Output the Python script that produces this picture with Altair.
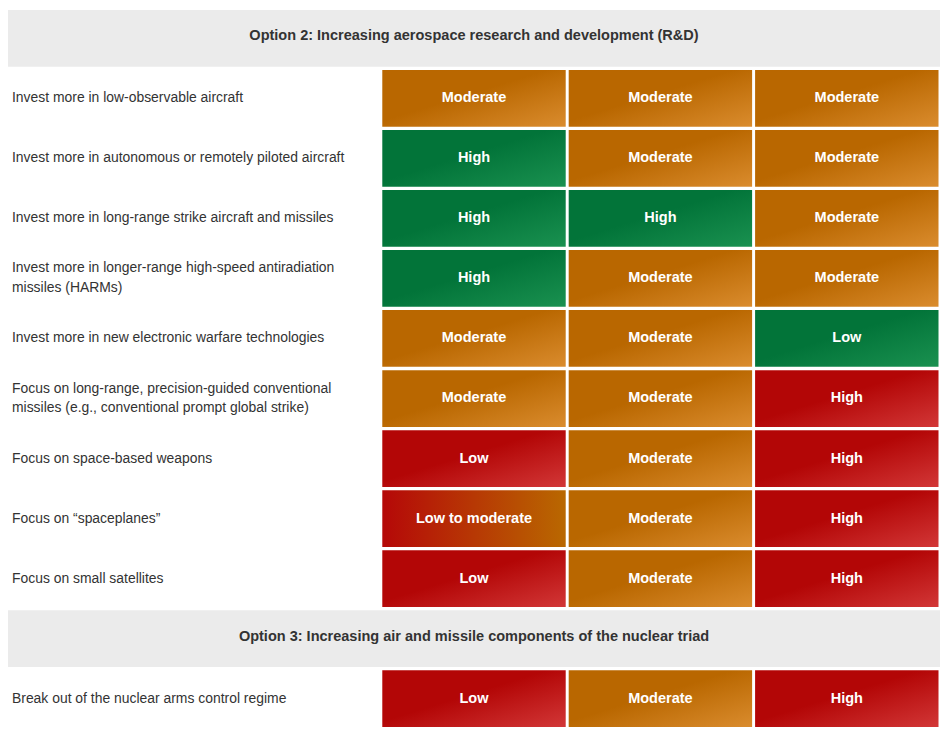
import altair as alt
import pandas as pd

# ---- data ----
row_keys = ["H1", "R1", "R2", "R3", "R4", "R5", "R6", "R7", "R8", "R9", "H2", "R10"]

header_keys = ["H1", "H2"]
header_texts = [
    "Option 2: Increasing aerospace research and development (R&D)",
    "Option 3: Increasing air and missile components of the nuclear triad",
]

item_keys = ["R1", "R2", "R3", "R4", "R5", "R6", "R7", "R8", "R9", "R10"]
item_labels = [
    "Invest more in low-observable aircraft",
    "Invest more in autonomous or remotely piloted aircraft",
    "Invest more in long-range strike aircraft and missiles",
    "Invest more in longer-range high-speed antiradiation\nmissiles (HARMs)",
    "Invest more in new electronic warfare technologies",
    "Focus on long-range, precision-guided conventional\nmissiles (e.g., conventional prompt global strike)",
    "Focus on space-based weapons",
    "Focus on \u201cspaceplanes\u201d",
    "Focus on small satellites",
    "Break out of the nuclear arms control regime",
]

col1_text = ["Moderate", "High", "High", "High", "Moderate", "Moderate", "Low", "Low to moderate", "Low", "Low"]
col1_tone = ["orange", "green", "green", "green", "orange", "orange", "red", "redorange", "red", "red"]
col2_text = ["Moderate", "Moderate", "High", "Moderate", "Moderate", "Moderate", "Moderate", "Moderate", "Moderate", "Moderate"]
col2_tone = ["orange", "orange", "green", "orange", "orange", "orange", "orange", "orange", "orange", "orange"]
col3_text = ["Moderate", "Moderate", "Moderate", "Moderate", "Low", "High", "High", "High", "High", "High"]
col3_tone = ["orange", "orange", "orange", "orange", "green", "red", "red", "red", "red", "red"]

# ---- tables ----
headers = pd.DataFrame({"key": header_keys, "text": header_texts, "x0": 0, "x1": 5, "xm": 2.5})
labels = pd.DataFrame({"key": item_keys, "text": item_labels, "x0": 0})
labels["lines"] = labels["text"].str.count("\n") + 1

cells = []
for ci, (texts, tones) in enumerate([(col1_text, col1_tone), (col2_text, col2_tone), (col3_text, col3_tone)]):
    for k, t, tone in zip(item_keys, texts, tones):
        cells.append({"key": k, "text": t, "tone": tone, "x0": 2 + ci, "x1": 3 + ci, "xm": 2.5 + ci})
cells = pd.DataFrame(cells)

FONT = "Liberation Sans"
xs = alt.Scale(domain=[0, 5], nice=False, zero=False)
ys = alt.Scale(domain=row_keys, paddingInner=0.055, paddingOuter=0.0)
Y = alt.Y("key:N", scale=ys, axis=None)


def grad(c0, c1, x2=1, y2=1, mid=0.45):
    return alt.Gradient(
        gradient="linear", x1=0, y1=0, x2=x2, y2=y2,
        stops=[alt.GradientStop(color=c0, offset=0), alt.GradientStop(color=c0, offset=mid),
               alt.GradientStop(color=c1, offset=1)],
    )


grads = {
    "orange": grad("#B96700", "#DA8C2E"),
    "green": grad("#027439", "#1A9150"),
    "red": grad("#B30606", "#D23737"),
    "redorange": alt.Gradient(
        gradient="linear", x1=0, y1=0, x2=1, y2=0,
        stops=[alt.GradientStop(color="#B50808", offset=0), alt.GradientStop(color="#B96800", offset=1)],
    ),
}

header_rect = alt.Chart(headers).mark_rect(fill="#EBEBEB").encode(
    x=alt.X("x0:Q", scale=xs, axis=None), x2="x1:Q", y=Y
)
header_text = alt.Chart(headers).mark_text(
    font=FONT, fontSize=14.6, fontWeight="bold", color="#333333", align="center", baseline="middle", dy=-2
).encode(x=alt.X("xm:Q", scale=xs, axis=None), y=Y, text="text:N")

label_one = alt.Chart(labels).transform_filter(alt.datum.lines == 1).mark_text(
    font=FONT, fontSize=14, color="#333333", align="left", baseline="middle", dx=4,
).encode(x=alt.X("x0:Q", scale=xs, axis=None), y=Y, text="text:N")

label_two = alt.Chart(labels).transform_filter(alt.datum.lines == 2).mark_text(
    font=FONT, fontSize=14, color="#333333", align="left", baseline="middle", dx=4, dy=-10,
    lineBreak="\n", lineHeight=20,
).encode(x=alt.X("x0:Q", scale=xs, axis=None), y=Y, text="text:N")

layers = [header_rect, header_text, label_one, label_two]
for tone, g in grads.items():
    layers.append(
        alt.Chart(cells).transform_filter(alt.datum.tone == tone).mark_rect(fill=g, xOffset=1.5, x2Offset=-1.5)
        .encode(x=alt.X("x0:Q", scale=xs, axis=None), x2="x1:Q", y=Y)
    )

cell_text = alt.Chart(cells).mark_text(
    font=FONT, fontSize=14.6, fontWeight="bold", color="#FFFFFF", align="center", baseline="middle"
).encode(x=alt.X("xm:Q", scale=xs, axis=None), y=Y, text="text:N")
layers.append(cell_text)

chart = alt.layer(*layers).properties(
    width=937, height=721, padding=0,
    autosize=alt.AutoSizeParams(type="fit", contains="padding"),
).configure_view(strokeWidth=0)

chart.save("out.html", embed_options={"renderer": "svg", "actions": False})
